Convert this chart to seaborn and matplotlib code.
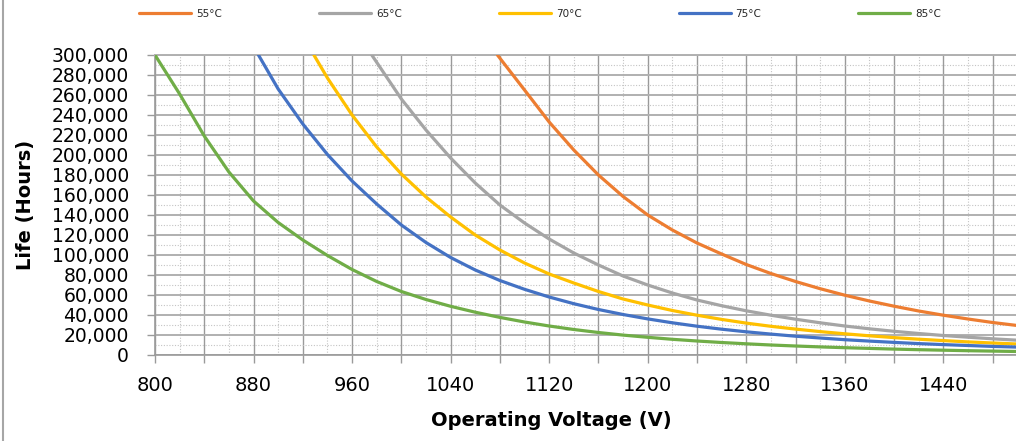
import numpy as np
import pandas as pd
import matplotlib
matplotlib.use("Agg")
import matplotlib.pyplot as plt
import seaborn as sns
from matplotlib.ticker import MultipleLocator, FuncFormatter
from matplotlib.lines import Line2D

# ---- data ----
temps = ["55°C", "65°C", "70°C", "75°C", "85°C"]
colors = ["#ED7D31", "#A5A5A5", "#FFC000", "#4472C4", "#70AD47"]

volt_55 = [1078] + list(range(1100, 1501, 20))
life_55 = [300000, 265000, 233000, 205000, 180000, 158500, 140000, 125000, 112000,
           101000, 90500, 81500, 73500, 66300, 59800, 54000, 48800, 44000, 39800,
           36000, 32500, 29500]

volt_65 = [976] + list(range(1000, 1501, 20))
life_65 = [300000, 256000, 225000, 197000, 172000, 150000, 132000, 116000, 102000,
           90000, 79000, 70000, 62000, 55000, 49300, 44200, 39800, 35800, 32200,
           29000, 26200, 23700, 21500, 19500, 17800, 16200, 14800]

volt_70 = [929] + list(range(940, 1501, 20))
life_70 = [300000, 277000, 240000, 208000, 181000, 158000, 138000, 120000, 105000,
           92000, 81000, 72000, 63500, 56000, 50000, 44500, 39800, 35600, 31900,
           28700, 25900, 23400, 21200, 19200, 17400, 15800, 14400, 13100, 12000, 11000]

volt_75 = [884] + list(range(900, 1501, 20))
life_75 = [300000, 266000, 231000, 200500, 174000, 151000, 130000, 112500, 97500,
           85000, 74500, 65700, 58000, 51300, 45500, 40500, 36100, 32200, 28800,
           25800, 23200, 20900, 18800, 17000, 15300, 13900, 12600, 11400, 10400,
           9500, 8600, 7900]

volt_85 = list(range(800, 1501, 20))
life_85 = [300000, 261000, 219000, 183000, 154000, 132500, 115000, 99500, 85500,
           73500, 63500, 55500, 48700, 42800, 37600, 33000, 29000, 25500, 22500,
           19900, 17700, 15700, 14000, 12500, 11200, 10000, 9000, 8100, 7300, 6600,
           5900, 5300, 4800, 4300, 3900, 3500]

x_label = "Operating Voltage (V)"
y_label = "Life (Hours)"

series = [(temps[0], volt_55, life_55), (temps[1], volt_65, life_65),
          (temps[2], volt_70, life_70), (temps[3], volt_75, life_75),
          (temps[4], volt_85, life_85)]
df = pd.concat([pd.DataFrame({"Voltage": v, "Life": l, "Temp": t}) for t, v, l in series],
               ignore_index=True)

# ---- styling ----
sns.set_theme(style="white")
plt.rcParams["font.family"] = ["DejaVu Sans"]
plt.rcParams["lines.solid_joinstyle"] = "round"

W, H = 1016, 441
fig = plt.figure(figsize=(W / 100, H / 100), dpi=100)
ax = fig.add_axes([155 / W, (H - 355) / H, 861 / W, 300 / H])

sns.lineplot(data=df, x="Voltage", y="Life", hue="Temp", hue_order=temps,
             palette=colors, linewidth=2.3, estimator=None, ax=ax, zorder=3)

ax.set_xlim(800, 1499)
ax.set_ylim(0, 300000)

ax.xaxis.set_major_locator(MultipleLocator(40))
ax.xaxis.set_minor_locator(MultipleLocator(20))
ax.yaxis.set_major_locator(MultipleLocator(20000))
ax.yaxis.set_minor_locator(MultipleLocator(10000))

ax.xaxis.set_major_formatter(FuncFormatter(
    lambda v, p: f"{int(round(v))}" if int(round(v - 800)) % 80 == 0 else ""))
ax.yaxis.set_major_formatter(FuncFormatter(lambda v, p: f"{int(round(v)):,}"))

ax.xaxis.grid(True, which="major", color="#9A9A9A", linewidth=1.0, zorder=0)
ax.yaxis.grid(True, which="major", color="#B0B0B0", linewidth=1.4, zorder=0)
ax.grid(True, which="minor", color="#C4C4C4", linewidth=0.8, linestyle=(0, (1, 1.5)), zorder=0)
ax.set_axisbelow(True)

for side in ["left", "bottom"]:
    ax.spines[side].set_color("#9A9A9A")
    ax.spines[side].set_linewidth(1.2)
ax.spines["top"].set_color("#B0B0B0")
ax.spines["top"].set_linewidth(1.4)
ax.spines["right"].set_visible(False)

ax.tick_params(which="major", direction="out", length=5.8, width=1.0, color="#9A9A9A",
               bottom=True, left=True)
ax.tick_params(which="minor", length=0)
ax.tick_params(axis="x", which="major", labelsize=14, pad=9, labelcolor="black")
ax.tick_params(axis="y", which="major", labelsize=13.5, pad=13, labelcolor="black")

ax.set_xlabel(x_label, fontsize=14, fontweight="bold", color="black")
ax.set_ylabel(y_label, fontsize=14, fontweight="bold", color="black")
ax.xaxis.label.set_va("center")
ax.yaxis.label.set_va("center")
ax.xaxis.set_label_coords((551 - 155) / 861, (355 - 420) / 300)
ax.yaxis.set_label_coords((26 - 155) / 861, 0.5)

handles, labels = ax.get_legend_handles_labels()
ax.get_legend().remove()
fs = 7.5
em = fs * 100 / 72
fig.legend(handles, labels, loc="center left", bbox_to_anchor=(139 / W, 1 - 14 / H),
           ncol=5, frameon=False, fontsize=fs, handlelength=52 / em,
           handletextpad=5 / em, columnspacing=97 / em, borderpad=0, borderaxespad=0)

fig.add_artist(Line2D([3 / W, 3 / W], [0, 1], color="#A6A6A6", linewidth=1.5,
                      transform=fig.transFigure))

fig.savefig("out.png", dpi=100)
